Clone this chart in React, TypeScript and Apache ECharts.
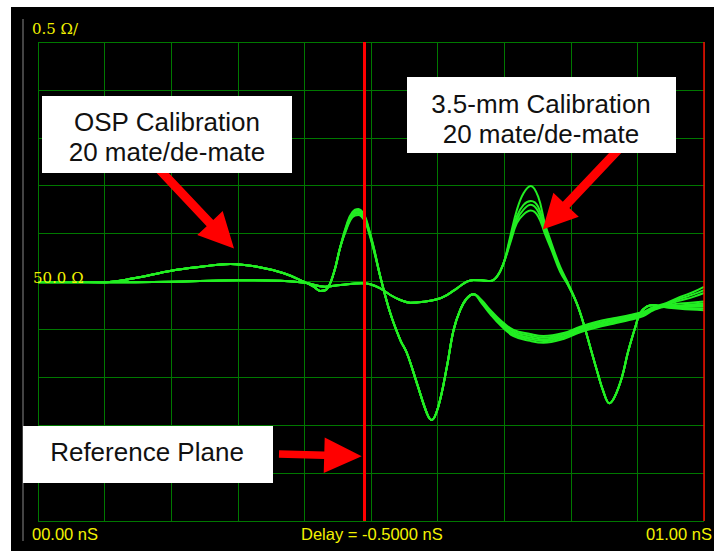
import React, { useEffect, useRef } from "react";
import * as echarts from "echarts";

// Time axis (ns) and impedance axis (ohm)
const xMin = 0;
const xMax = 1;
const xInterval = 0.1;
const yMin = 47.5;
const yMax = 52.5;
const yInterval = 0.5;
const markerNs = 0.49;

// Family A: gentle bump, peak near reference plane, deep dip, then wide band
const xA = [0.0, 0.049, 0.1, 0.144, 0.2, 0.244, 0.289, 0.329, 0.369, 0.399, 0.414, 0.424, 0.433, 0.444, 0.454, 0.464, 0.472, 0.481, 0.49, 0.496, 0.504, 0.514, 0.529, 0.544, 0.554, 0.569, 0.584, 0.591, 0.601, 0.614, 0.624, 0.634, 0.644, 0.654, 0.666, 0.679, 0.694, 0.714, 0.739, 0.759, 0.789, 0.814, 0.839, 0.864, 0.889, 0.909, 0.924, 0.944, 0.964, 0.984, 1.0];
const yA1 = [49.995, 49.995, 49.992, 50.033, 50.113, 50.154, 50.183, 50.154, 50.086, 49.998, 49.946, 49.901, 49.916, 50.086, 50.363, 50.608, 50.725, 50.757, 50.694, 50.572, 50.363, 50.05, 49.668, 49.389, 49.251, 48.937, 48.624, 48.554, 48.693, 49.111, 49.494, 49.703, 49.825, 49.866, 49.807, 49.703, 49.599, 49.494, 49.452, 49.431, 49.462, 49.528, 49.58, 49.616, 49.65, 49.685, 49.734, 49.776, 49.838, 49.89, 49.943];
const yA1b = [49.995, 49.995, 49.992, 50.033, 50.113, 50.154, 50.183, 50.154, 50.086, 49.998, 49.946, 49.901, 49.916, 50.086, 50.363, 50.594, 50.712, 50.741, 50.682, 50.561, 50.356, 50.05, 49.668, 49.389, 49.251, 48.937, 48.624, 48.554, 48.693, 49.111, 49.494, 49.703, 49.825, 49.866, 49.798, 49.69, 49.585, 49.477, 49.434, 49.413, 49.446, 49.514, 49.565, 49.603, 49.637, 49.675, 49.725, 49.768, 49.82, 49.865, 49.91];
const yA2 = [49.995, 49.995, 49.992, 50.033, 50.113, 50.154, 50.183, 50.154, 50.086, 49.998, 49.946, 49.901, 49.916, 50.086, 50.363, 50.58, 50.7, 50.725, 50.67, 50.55, 50.35, 50.05, 49.668, 49.389, 49.251, 48.937, 48.624, 48.554, 48.693, 49.111, 49.494, 49.703, 49.825, 49.866, 49.79, 49.68, 49.57, 49.46, 49.415, 49.395, 49.43, 49.5, 49.55, 49.59, 49.625, 49.665, 49.715, 49.76, 49.8, 49.84, 49.88];
const yA2b = [49.995, 49.995, 49.992, 50.033, 50.113, 50.154, 50.183, 50.154, 50.086, 49.998, 49.946, 49.901, 49.916, 50.086, 50.363, 50.57, 50.685, 50.71, 50.655, 50.54, 50.34, 50.05, 49.668, 49.389, 49.251, 48.937, 48.624, 48.554, 48.693, 49.111, 49.494, 49.703, 49.825, 49.866, 49.782, 49.67, 49.557, 49.445, 49.398, 49.378, 49.415, 49.485, 49.535, 49.575, 49.612, 49.652, 49.707, 49.75, 49.77, 49.78, 49.79];
const yA3 = [49.995, 49.995, 49.992, 50.033, 50.113, 50.154, 50.183, 50.154, 50.086, 49.998, 49.946, 49.901, 49.916, 50.086, 50.363, 50.56, 50.67, 50.695, 50.64, 50.53, 50.33, 50.05, 49.668, 49.389, 49.251, 48.937, 48.624, 48.554, 48.693, 49.111, 49.494, 49.703, 49.825, 49.866, 49.775, 49.66, 49.545, 49.43, 49.38, 49.36, 49.4, 49.47, 49.52, 49.56, 49.6, 49.64, 49.7, 49.74, 49.745, 49.75, 49.755];

// Family B: flat, shallow dip, tall peak with spread, deep dip, flat tail
const xB = [0.0, 0.1, 0.2, 0.301, 0.364, 0.401, 0.431, 0.454, 0.486, 0.499, 0.514, 0.529, 0.544, 0.559, 0.579, 0.599, 0.614, 0.629, 0.644, 0.654, 0.666, 0.679, 0.689, 0.699, 0.709, 0.719, 0.729, 0.74, 0.751, 0.761, 0.771, 0.784, 0.796, 0.809, 0.819, 0.829, 0.839, 0.849, 0.858, 0.866, 0.877, 0.886, 0.897, 0.904, 0.914, 0.924, 0.937, 0.964, 1.0];
const yB1 = [49.992, 49.992, 49.998, 50.013, 50.008, 49.987, 49.946, 49.963, 49.981, 49.971, 49.929, 49.859, 49.807, 49.779, 49.789, 49.814, 49.859, 49.929, 49.998, 50.016, 50.013, 50.005, 50.05, 50.19, 50.468, 50.746, 50.921, 50.997, 50.885, 50.608, 50.399, 50.154, 49.981, 49.772, 49.564, 49.319, 49.076, 48.85, 48.729, 48.798, 49.006, 49.267, 49.528, 49.668, 49.737, 49.755, 49.737, 49.737, 49.744];
const yB2 = [49.992, 49.992, 49.998, 50.013, 50.008, 49.987, 49.946, 49.963, 49.981, 49.971, 49.929, 49.859, 49.807, 49.779, 49.789, 49.814, 49.859, 49.929, 49.998, 50.016, 50.013, 50.005, 50.05, 50.19, 50.44, 50.68, 50.8, 50.84, 50.78, 50.56, 50.37, 50.13, 49.97, 49.772, 49.564, 49.319, 49.076, 48.85, 48.729, 48.798, 49.006, 49.267, 49.528, 49.668, 49.737, 49.755, 49.737, 49.725, 49.72];
const yB3 = [49.992, 49.992, 49.998, 50.013, 50.008, 49.987, 49.946, 49.963, 49.981, 49.971, 49.929, 49.859, 49.807, 49.779, 49.789, 49.814, 49.859, 49.929, 49.998, 50.016, 50.013, 50.005, 50.05, 50.19, 50.42, 50.64, 50.75, 50.8, 50.73, 50.53, 50.35, 50.12, 49.96, 49.772, 49.564, 49.319, 49.076, 48.85, 48.729, 48.798, 49.006, 49.267, 49.528, 49.668, 49.737, 49.755, 49.737, 49.715, 49.7];
const yB4 = [49.992, 49.992, 49.998, 50.013, 50.008, 49.987, 49.946, 49.963, 49.981, 49.971, 49.929, 49.859, 49.807, 49.779, 49.789, 49.814, 49.859, 49.929, 49.998, 50.016, 50.013, 50.005, 50.05, 50.19, 50.4, 50.61, 50.7, 50.74, 50.68, 50.5, 50.33, 50.1, 49.96, 49.772, 49.564, 49.319, 49.076, 48.85, 48.729, 48.798, 49.006, 49.267, 49.528, 49.668, 49.737, 49.755, 49.737, 49.75, 49.77];

const scaleLabel = "0.5 Ω/";
const refLabel = "50.0 Ω";
const startLabel = "00.00 nS";
const delayLabel = "Delay = -0.5000 nS";
const stopLabel = "01.00 nS";
const note1 = "OSP Calibration\n20 mate/de-mate";
const note2 = "3.5-mm Calibration\n20 mate/de-mate";
const note3 = "Reference Plane";

const TRACE = "#22ee22";
const GRIDC = "#007800";
const YELLOW = "#f2f200";
const RED = "#ff0000";

function zip(xs: number[], ys: number[]) {
  return xs.map((x, i) => [x, ys[i]]);
}

function arrowPoints(
  tail: number[],
  tip: number[],
  shaftHalf: number,
  headLen: number,
  headHalf: number
) {
  const dx = tip[0] - tail[0];
  const dy = tip[1] - tail[1];
  const L = Math.hypot(dx, dy);
  const ux = dx / L;
  const uy = dy / L;
  const nx = -uy;
  const ny = ux;
  const bx = tip[0] - ux * headLen;
  const by = tip[1] - uy * headLen;
  return [
    [tail[0] + nx * shaftHalf, tail[1] + ny * shaftHalf],
    [bx + nx * shaftHalf, by + ny * shaftHalf],
    [bx + nx * headHalf, by + ny * headHalf],
    [tip[0], tip[1]],
    [bx - nx * headHalf, by - ny * headHalf],
    [bx - nx * shaftHalf, by - ny * shaftHalf],
    [tail[0] - nx * shaftHalf, tail[1] - ny * shaftHalf],
  ];
}

function lineSeries(name: string, xs: number[], ys: number[], extra: any = {}) {
  return {
    name,
    type: "line",
    data: zip(xs, ys),
    symbol: "none",
    smooth: 0.4,
    lineStyle: { color: TRACE, width: 2 },
    silent: true,
    ...extra,
  };
}

function txt(text: string, x: number, y: number, font: string, fill: string, align: string, z = 120, lineHeight?: number) {
  return {
    type: "text",
    x,
    y,
    z,
    silent: true,
    style: {
      text,
      font,
      fill,
      textAlign: align,
      align,
      textVerticalAlign: "middle",
      verticalAlign: "middle",
      ...(lineHeight ? { lineHeight } : {}),
    },
  };
}

export default function App() {
  const ref = useRef<HTMLDivElement>(null);

  useEffect(() => {
    if (!ref.current) return;
    const chart = echarts.init(ref.current, undefined, { renderer: "svg" });
    const boxFont = '26px "Liberation Sans", Arial, sans-serif';
    const axisFont = '16.5px "Liberation Sans", Arial, sans-serif';
    const serifFont = '15px "DejaVu Serif", serif';

    chart.setOption({
      animation: false,
      backgroundColor: "transparent",
      grid: { left: 38, right: 10, top: 42, bottom: 30, containLabel: false, outerBoundsMode: "none" },
      xAxis: {
        type: "value",
        min: xMin,
        max: xMax,
        interval: xInterval,
        axisLabel: { show: false },
        axisTick: { show: false },
        axisLine: { show: false },
        splitLine: { show: true, lineStyle: { color: GRIDC, width: 1 } },
      },
      yAxis: {
        type: "value",
        min: yMin,
        max: yMax,
        interval: yInterval,
        axisLabel: { show: false },
        axisTick: { show: false },
        axisLine: { show: false },
        splitLine: { show: true, lineStyle: { color: GRIDC, width: 1 } },
      },
      series: [
        lineSeries("A1", xA, yA1),
        lineSeries("A1b", xA, yA1b),
        lineSeries("A2", xA, yA2),
        lineSeries("A2b", xA, yA2b),
        lineSeries("A3", xA, yA3),
        lineSeries("B2", xB, yB2),
        lineSeries("B3", xB, yB3),
        lineSeries("B4", xB, yB4),
        lineSeries("B1", xB, yB1, {
          markLine: {
            silent: true,
            symbol: "none",
            label: { show: false },
            animation: false,
            data: [
              { xAxis: markerNs, lineStyle: { color: RED, width: 3, type: "solid" } },
              { xAxis: xMax, lineStyle: { color: RED, width: 1.5, type: "solid" } },
            ],
          },
        }),
      ],
      graphic: [
        {
          type: "line",
          z: 1,
          silent: true,
          shape: { x1: 23, y1: 19, x2: 23, y2: 541 },
          style: { stroke: "#444444", lineWidth: 2 },
        },
        txt(scaleLabel, 32, 29, serifFont, YELLOW, "left", 50),
        txt(refLabel, 33, 278, serifFont, YELLOW, "left", 50),
        txt(startLabel, 32, 534, axisFont, YELLOW, "left", 50),
        txt(delayLabel, 301, 534, axisFont, YELLOW, "left", 50),
        txt(stopLabel, 712, 534, axisFont, YELLOW, "right", 50),
        {
          type: "polygon",
          z: 99,
          silent: true,
          shape: { points: arrowPoints([158, 168], [234, 248.5], 4.5, 35, 17.5) },
          style: { fill: RED },
        },
        {
          type: "polygon",
          z: 99,
          silent: true,
          shape: { points: arrowPoints([618, 150], [542.7, 229.5], 4.5, 34, 17.5) },
          style: { fill: RED },
        },
        {
          type: "polygon",
          z: 99,
          silent: true,
          shape: { points: arrowPoints([279, 454], [361.7, 456.3], 3.8, 37.5, 17.7) },
          style: { fill: RED },
        },
        {
          type: "rect",
          z: 100,
          silent: true,
          shape: { x: 42, y: 96, width: 250, height: 77 },
          style: { fill: "#ffffff" },
        },
        {
          type: "rect",
          z: 100,
          silent: true,
          shape: { x: 407, y: 77, width: 269, height: 76 },
          style: { fill: "#ffffff" },
        },
        {
          type: "rect",
          z: 100,
          silent: true,
          shape: { x: 23, y: 426, width: 250, height: 57 },
          style: { fill: "#ffffff" },
        },
        txt(note1, 167, 137, boxFont, "#111111", "center", 120, 30),
        txt(note2, 541, 118.5, boxFont, "#111111", "center", 120, 30),
        txt(note3, 147, 452, boxFont, "#111111", "center", 120),
      ],
    });

    return () => {
      chart.dispose();
    };
  }, []);

  return (
    <div style={{ position: "absolute", left: 0, top: 0, width: 714, height: 551, background: "#ffffff" }}>
      <div style={{ position: "absolute", left: 11, top: 7, width: 703, height: 544, background: "#000000" }} />
      <div ref={ref} style={{ position: "absolute", left: 0, top: 0, width: 714, height: 551 }} />
    </div>
  );
}
